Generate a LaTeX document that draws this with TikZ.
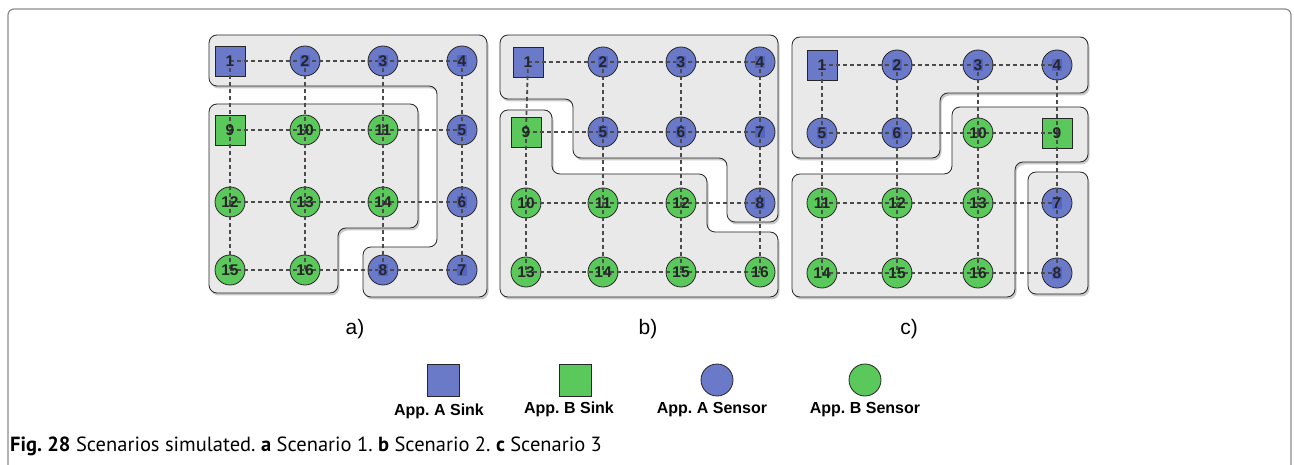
\documentclass[tikz,border=0pt]{standalone}
\usepackage{fontspec}
\setmainfont{Liberation Sans}
\newfontfamily\capfont{PT Sans}
\usetikzlibrary{shadows}
\frenchspacing
\definecolor{appA}{RGB}{106,122,201}
\definecolor{appAdark}{RGB}{84,101,192}
\definecolor{appB}{RGB}{90,200,90}
\definecolor{regfill}{RGB}{233,233,233}
\definecolor{linkc}{RGB}{75,75,75}
\definecolor{framec}{RGB}{140,140,140}
\begin{document}
\frenchspacing
\begin{tikzpicture}[x=1pt,y=-1pt,
  region/.style={draw=black!85, line width=0.8pt, fill=regfill, rounded corners=8pt,
    drop shadow={shadow xshift=1.5pt, shadow yshift=-2.5pt, opacity=0.3, fill=black!70}},
  nd/.style={draw=black!85, line width=0.8pt, inner sep=0pt, minimum size=30pt},
  sensorA/.style={nd, circle, fill=appA},
  sensorB/.style={nd, circle, fill=appB},
  sinkA/.style={nd, rectangle, fill=appA},
  sinkB/.style={nd, rectangle, fill=appB},
  link/.style={draw=linkc, line width=1.8pt, dash pattern=on 4pt off 3pt},
  num/.style={font=\bfseries\fontsize{15.5}{15.5}\selectfont, text=black!85, inner sep=0.8pt},
  numA/.style={num, fill=appAdark},
  plab/.style={font=\fontsize{21}{21}\selectfont},
  legtext/.style={font=\bfseries\fontsize{16}{16}\selectfont},
]
\useasboundingbox (0,0) rectangle (1294,465);

% outer frame
\draw[framec, line width=1.2pt, rounded corners=6pt] (8,465) -- (8,9) -- (1291,9) -- (1291,465);

% ---------------- panel a ----------------
\path[region] (209,35) -- (487,35) -- (487,297) -- (363,297) -- (363,247) -- (437,247) -- (437,86) -- (209,86) -- cycle;
\path[region] (209,104) -- (418,104) -- (418,228) -- (338,228) -- (338,293) -- (209,293) -- cycle;

\node[sinkA]   (a1)  at (230,61)  {};
\node[sensorA] (a2)  at (305,61)  {};
\node[sensorA] (a3)  at (383,61)  {};
\node[sensorA] (a4)  at (462,61)  {};
\node[sinkB]   (a9)  at (230,130) {};
\node[sensorB] (a10) at (305,130) {};
\node[sensorB] (a11) at (383,130) {};
\node[sensorA] (a5)  at (462,130) {};
\node[sensorB] (a12) at (230,202) {};
\node[sensorB] (a13) at (305,202) {};
\node[sensorB] (a14) at (383,202) {};
\node[sensorA] (a6)  at (462,202) {};
\node[sensorB] (a15) at (230,270) {};
\node[sensorB] (a16) at (305,270) {};
\node[sensorA] (a8)  at (383,270) {};
\node[sensorA] (a7)  at (462,270) {};

\foreach \u/\v in {a1/a2,a2/a3,a3/a4,a9/a10,a10/a11,a11/a5,a12/a13,a13/a14,a14/a6,a15/a16,a16/a8,a8/a7,
  a1/a9,a9/a12,a12/a15,a2/a10,a10/a13,a13/a16,a3/a11,a11/a14,a14/a8,a4/a5,a5/a6,a6/a7}
  \draw[link] (\u.center) -- (\v.center);

\foreach \n in {1,9,10,11,12,13,14,15,16} \node[num] (a\n t) at (a\n) {\n};
\foreach \n in {2,3,4,5,6,7,8} \node[numA] (a\n t) at (a\n) {\n};

% ---------------- panel b ----------------
\path[region] (500,35) -- (778,35) -- (778,222) -- (727,222) -- (727,158) -- (573,158) -- (573,99) -- (500,99) -- cycle;
\path[region] (500,110) -- (552,110) -- (552,174) -- (707,174) -- (707,232) -- (778,232) -- (778,297) -- (500,297) -- cycle;

\node[sinkA]   (b1)  at (528,62)  {};
\node[sensorA] (b2)  at (603,62)  {};
\node[sensorA] (b3)  at (681,62)  {};
\node[sensorA] (b4)  at (760,62)  {};
\node[sinkB]   (b9)  at (526,132) {};
\node[sensorA] (b5)  at (603,132) {};
\node[sensorA] (b6)  at (681,132) {};
\node[sensorA] (b7)  at (760,132) {};
\node[sensorB] (b10) at (526,203) {};
\node[sensorB] (b11) at (603,203) {};
\node[sensorB] (b12) at (681,203) {};
\node[sensorA] (b8)  at (760,203) {};
\node[sensorB] (b13) at (526,272) {};
\node[sensorB] (b14) at (603,272) {};
\node[sensorB] (b15) at (681,272) {};
\node[sensorB] (b16) at (760,272) {};

\foreach \u/\v in {b1/b2,b2/b3,b3/b4,b9/b5,b5/b6,b6/b7,b10/b11,b11/b12,b12/b8,b13/b14,b14/b15,b15/b16,
  b1/b9,b9/b10,b10/b13,b2/b5,b5/b11,b11/b14,b3/b6,b6/b12,b12/b15,b4/b7,b7/b8,b8/b16}
  \draw[link] (\u.center) -- (\v.center);

\foreach \n in {1,9,10,11,12,13,14,15,16} \node[num] (b\n t) at (b\n) {\n};
\foreach \n in {2,3,4,5,6,7,8} \node[numA] (b\n t) at (b\n) {\n};

% ---------------- panel c ----------------
\path[region] (792,37) -- (1088,37) -- (1088,93) -- (940,93) -- (940,158) -- (792,158) -- cycle;
\path[region] (952,107) -- (1088,107) -- (1088,162) -- (1015,162) -- (1015,297) -- (792,297) -- (792,174) -- (952,174) -- cycle;
\path[region] (1028,172) -- (1088,172) -- (1088,294) -- (1028,294) -- cycle;

\node[sinkA]   (c1)  at (822,65)  {};
\node[sensorA] (c2)  at (897,65)  {};
\node[sensorA] (c3)  at (978,65)  {};
\node[sensorA] (c4)  at (1057,65) {};
\node[sensorA] (c5)  at (822,133) {};
\node[sensorA] (c6)  at (897,133) {};
\node[sensorB] (c10) at (978,133) {};
\node[sinkB]   (c9)  at (1057,133) {};
\node[sensorB] (c11) at (822,203) {};
\node[sensorB] (c12) at (897,203) {};
\node[sensorB] (c13) at (978,203) {};
\node[sensorA] (c7)  at (1057,203) {};
\node[sensorB] (c14) at (822,273) {};
\node[sensorB] (c15) at (897,273) {};
\node[sensorB] (c16) at (978,273) {};
\node[sensorA] (c8)  at (1057,273) {};

\foreach \u/\v in {c1/c2,c2/c3,c3/c4,c5/c6,c6/c10,c10/c9,c11/c12,c12/c13,c13/c7,c14/c15,c15/c16,c16/c8,
  c1/c5,c5/c11,c11/c14,c2/c6,c6/c12,c12/c15,c3/c10,c10/c13,c13/c16,c4/c9,c9/c7,c7/c8}
  \draw[link] (\u.center) -- (\v.center);

\foreach \n in {1,9,10,11,12,13,14,15,16} \node[num] (c\n t) at (c\n) {\n};
\foreach \n in {2,3,4,5,6,7,8} \node[numA] (c\n t) at (c\n) {\n};

% panel labels
\node[plab] (la) at (355,329) {a)};
\node[plab] (lb) at (648,329) {b)};
\node[plab] (lc) at (909,329) {c)};

% legend
\node[sinkA, minimum size=32pt]   (lgA1) at (443,380) {};
\node[sinkB, minimum size=32pt]   (lgB1) at (575,380) {};
\node[sensorA, minimum size=32pt] (lgA2) at (717,380) {};
\node[sensorB, minimum size=32pt] (lgB2) at (865,380) {};
\node[legtext] (ltA1) at (439,411) {App. A Sink};
\node[legtext] (ltB1) at (569,409) {App. B Sink};
\node[legtext] (ltA2) at (712,410) {App. A Sensor};
\node[legtext] (ltB2) at (865,410) {App. B Sensor};

% caption
\node[anchor=west, inner sep=0pt, font=\capfont\fontsize{20.5}{20.5}\selectfont] (cap) at (10,446)
  {\textbf{Fig. 28} Scenarios simulated. \textbf{a} Scenario 1. \textbf{b} Scenario 2. \textbf{c} Scenario 3};
\end{tikzpicture}
\end{document}
